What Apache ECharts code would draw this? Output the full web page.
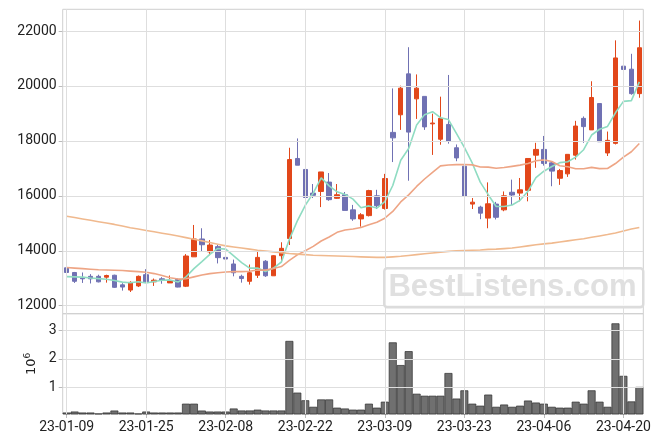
<!DOCTYPE html>
<html>
<head>
<meta charset="utf-8">
<script src="https://cdn.jsdelivr.net/npm/echarts@6/dist/echarts.min.js"></script>
<style>html,body{margin:0;padding:0;background:#fff;}#chart{width:663px;height:444px;}</style>
</head>
<body>
<div id="chart"></div>
<script>
const dates = ['23-01-09','23-01-10','23-01-11','23-01-12','23-01-13',
'23-01-16','23-01-17','23-01-18','23-01-19','23-01-20',
'23-01-25','23-01-26','23-01-27',
'23-01-30','23-01-31','23-02-01','23-02-02','23-02-03',
'23-02-06','23-02-07','23-02-08','23-02-09','23-02-10',
'23-02-13','23-02-14','23-02-15','23-02-16','23-02-17',
'23-02-20','23-02-21','23-02-22','23-02-23','23-02-24',
'23-02-27','23-02-28','23-03-02','23-03-03',
'23-03-06','23-03-07','23-03-08','23-03-09','23-03-10',
'23-03-13','23-03-14','23-03-15','23-03-16','23-03-17',
'23-03-20','23-03-21','23-03-22','23-03-23','23-03-24',
'23-03-27','23-03-28','23-03-29','23-03-30','23-03-31',
'23-04-03','23-04-04','23-04-05','23-04-06','23-04-07',
'23-04-10','23-04-11','23-04-12','23-04-13','23-04-14',
'23-04-17','23-04-18','23-04-19','23-04-20','23-04-21',
'23-04-24'];

const openP = [13380,13210,13010,13070,13070,13040,13110,12760,12570,12720,
13130,12870,12980,12830,12960,12710,13780,14430,13960,14150,
13760,13520,13070,12890,13110,13620,13090,13820,14450,17360,
16960,16100,16160,16500,15910,16040,15490,15160,15280,16000,
15540,18310,18950,20440,19530,19620,18620,18060,18600,17750,
17080,15700,15590,15190,15700,15490,16130,16100,16200,17480,
17690,17200,16640,16800,17480,18820,18400,19360,17560,17910,
20720,20610,19720];

const closeP = [13210,12890,12980,12980,12870,13100,12670,12680,12850,13070,
12870,12930,12930,12900,12680,13810,14430,14220,14210,13750,
13700,13200,12990,13200,13760,13090,13820,14090,17320,17115,
15940,16020,16870,15860,16040,15470,15160,15310,16190,15640,
16630,18110,19920,18320,19920,18510,18650,18820,17990,17380,
15980,15770,15370,15710,15220,16000,16030,16220,17360,17690,
17180,16900,16920,17510,18540,18520,19580,17970,18020,21020,
20600,19720,21390];

const highP = [13450,13230,13210,13150,13130,13130,13130,12820,12890,13100,
13330,12990,13040,13100,12990,13880,14940,14820,14390,14210,
14060,13680,13130,13500,14000,13660,13840,14310,17750,18090,
17410,16430,16870,16830,16430,16140,15670,15370,16220,16220,
16800,19910,20010,21410,20420,19620,18990,19610,20400,17870,
17140,15920,15640,16490,15780,16160,16590,16650,17360,17930,
18180,17260,16980,17510,18730,18890,20170,19360,18340,21660,
22330,21170,22380];

const lowP = [13140,12830,12830,12810,12850,12840,12650,12550,12500,12680,
12830,12720,12800,12830,12670,12680,13780,13990,13840,13540,
13480,13070,12840,12770,13010,13050,13090,13620,14210,17115,
15920,15920,15590,15820,15890,15470,15090,14880,15250,15520,
15500,17230,18400,16550,18800,18400,17490,17860,17900,17260,
15860,15520,15150,14820,15140,15440,15670,15800,15800,17020,
17100,16350,16400,16690,17320,17930,18400,17970,17450,17870,
20530,19680,19570];

const volume = [108000,143000,108000,108000,73000,108000,178000,108000,108000,73000,
143000,108000,108000,108000,108000,420000,420000,178000,143000,143000,
143000,250000,180000,180000,210000,180000,180000,180000,2630000,810000,
540000,310000,570000,570000,280000,250000,210000,210000,420000,280000,
490000,2580000,1780000,2270000,770000,700000,700000,700000,1500000,600000,
890000,420000,350000,740000,310000,390000,310000,350000,530000,460000,
420000,310000,280000,280000,490000,420000,890000,490000,310000,3250000,
1400000,500000,1010000];

const ma5 = [13060,13050,13040,13010,12986,12964,12920,12860,12834,12874,
12828,12880,12930,12940,12862,13050,13350,13608,13870,14084,
14062,13816,13570,13368,13370,13248,13372,13592,14416,15087,
15657,16097,16653,16361,16146,16052,15880,15568,15634,15554,
15786,16376,17298,17724,18580,18956,19064,18844,18778,18270,
17764,17188,16498,16042,15610,15614,15666,15836,16166,16660,
16896,17070,17210,17240,17410,17678,18214,18424,18526,19022,
19438,19466,20150];

const ma20 = [13390,13370,13350,13330,13310,13300,13290,13280,13260,13240,
13220,13170,13100,13020,12970,12980,13050,13120,13170,13202,
13226,13242,13242,13253,13298,13297,13355,13425,13649,13851,
14004,14159,14356,14504,14672,14755,14791,14846,14945,15039,
15186,15431,15778,16034,16342,16613,16854,17091,17124,17138,
17140,17127,17052,17045,17004,17030,17074,17119,17178,17280,
17308,17247,17097,17057,16988,16988,17035,16992,16994,17176,
17407,17604,17905];

const ma60 = [15260,15210,15160,15110,15060,15010,14960,14900,14840,14790,
14740,14690,14640,14590,14540,14480,14420,14360,14300,14240,
14180,14140,14100,14060,14020,13990,13960,13930,13900,13880,
13860,13840,13830,13820,13810,13800,13790,13780,13770,13760,
13760,13780,13800,13830,13860,13890,13920,13950,13980,14000,
14010,14020,14030,14050,14060,14080,14100,14140,14180,14220,
14250,14280,14320,14360,14400,14440,14490,14540,14590,14650,
14720,14790,14850];

const priceTicks = [12000,14000,16000,18000,20000,22000];
const volTicks = [1000000,2000000,3000000];
const labelIdx = [0,10,20,30,40,50,60,70];

const UP = '#e2471a', DOWN = '#7071b3';
const GRIDC = '#dedede';
const FONT = 'Roboto';

const candleData = openP.map((o,i)=>[o, closeP[i], lowP[i], highP[i]]);

const chart = echarts.init(document.getElementById('chart'), null, {renderer:'canvas'});
const gl = { silent:true, symbol:['none','none'], label:{show:false}, animation:false,
  lineStyle:{color:GRIDC, width:1, type:'solid'} };

const option = {
  animation:false,
  backgroundColor:'#ffffff',
  grid:[
    {left:62.7, right:19.7, top:9.3, height:304.4, show:true, borderColor:'#cfcfcf', borderWidth:1, backgroundColor:'transparent'},
    {left:62.7, right:19.7, top:313.7, height:100.3, show:true, borderColor:'#cfcfcf', borderWidth:1, backgroundColor:'transparent'}
  ],
  xAxis:[
    {type:'category', gridIndex:0, data:dates, boundaryGap:true,
     axisLine:{show:false}, axisTick:{show:false}, axisLabel:{show:false}, splitLine:{show:false}},
    {type:'category', gridIndex:1, data:dates, boundaryGap:true,
     axisLine:{show:false},
     axisTick:{show:true, alignWithLabel:true, interval:(i)=>i%10===0, length:4, lineStyle:{color:'#bbbbbb'}},
     axisLabel:{interval:(i)=>i%10===0, fontFamily:FONT, fontSize:14, color:'#222', margin:6},
     splitLine:{show:false}}
  ],
  yAxis:[
    {type:'value', gridIndex:0, min:11710, max:22790, scale:true,
     axisLine:{show:false},
     axisTick:{show:true, customValues:priceTicks, length:4, lineStyle:{color:'#bbbbbb'}},
     axisLabel:{customValues:priceTicks, formatter:(v)=>String(v), fontFamily:FONT, fontSize:14, color:'#222', margin:6},
     splitLine:{show:false}},
    {type:'value', gridIndex:1, min:57000, max:3590000,
     axisLine:{show:false},
     axisTick:{show:true, customValues:volTicks, length:4, lineStyle:{color:'#bbbbbb'}},
     axisLabel:{customValues:volTicks, formatter:(v)=>String(Math.round(v/1e6)), fontFamily:FONT, fontSize:14, color:'#222', margin:6},
     splitLine:{show:false},
     name:'{a|10}{b|6}', nameLocation:'middle', nameRotate:90, nameGap:24,
     nameTextStyle:{color:'#222', rich:{
       a:{fontFamily:'DejaVu Sans', fontSize:13, color:'#222', verticalAlign:'bottom'},
       b:{fontFamily:'DejaVu Sans', fontSize:9, color:'#222', verticalAlign:'top', padding:[0,0,6,0]}
     }}}
  ],
  series:[
    {name:'gridP', type:'line', xAxisIndex:0, yAxisIndex:0, data:[], z:0, silent:true,
     markLine:Object.assign({}, gl, {data:[
       ...priceTicks.map(v=>({yAxis:v})),
       ...labelIdx.map(i=>({xAxis:dates[i]}))
     ]})},
    {name:'gridV', type:'line', xAxisIndex:1, yAxisIndex:1, data:[], z:0, silent:true,
     markLine:Object.assign({}, gl, {data:[
       ...volTicks.map(v=>({yAxis:v})),
       ...labelIdx.map(i=>({xAxis:dates[i]}))
     ]})},
    {name:'price', type:'candlestick', xAxisIndex:0, yAxisIndex:0, data:candleData, barWidth:5, z:2,
     itemStyle:{color:UP, color0:DOWN, borderColor:UP, borderColor0:DOWN, borderWidth:1}},
    {name:'MA5', type:'line', xAxisIndex:0, yAxisIndex:0, data:ma5, symbol:'none', z:3,
     lineStyle:{color:'#8fdcc2', width:1.6}},
    {name:'MA20', type:'line', xAxisIndex:0, yAxisIndex:0, data:ma20, symbol:'none', z:3,
     lineStyle:{color:'#eea585', width:1.6}},
    {name:'MA60', type:'line', xAxisIndex:0, yAxisIndex:0, data:ma60, symbol:'none', z:3,
     lineStyle:{color:'#f0b98e', width:1.6}},
    {name:'volume', type:'bar', xAxisIndex:1, yAxisIndex:1, data:volume, barWidth:'100%', barGap:'0%', z:2,
     itemStyle:{color:'#707070', borderColor:'#2e2e2e', borderWidth:0.7}}
  ],
  graphic:[
    {type:'rect', left:383, top:267, z:100, shape:{width:259, height:39, r:3},
     style:{fill:'rgba(255,255,255,0.75)', stroke:'#dcdcdc', lineWidth:2.5}},
    {type:'text', x:512.5, y:287, z:101,
     style:{text:'BestListens.com', fill:'#e0e0e0', font:'bold 31px "Liberation Sans", Arial, sans-serif', textAlign:'center', textVerticalAlign:'middle'}}
  ]
};
chart.setOption(option);
</script>
</body>
</html>
